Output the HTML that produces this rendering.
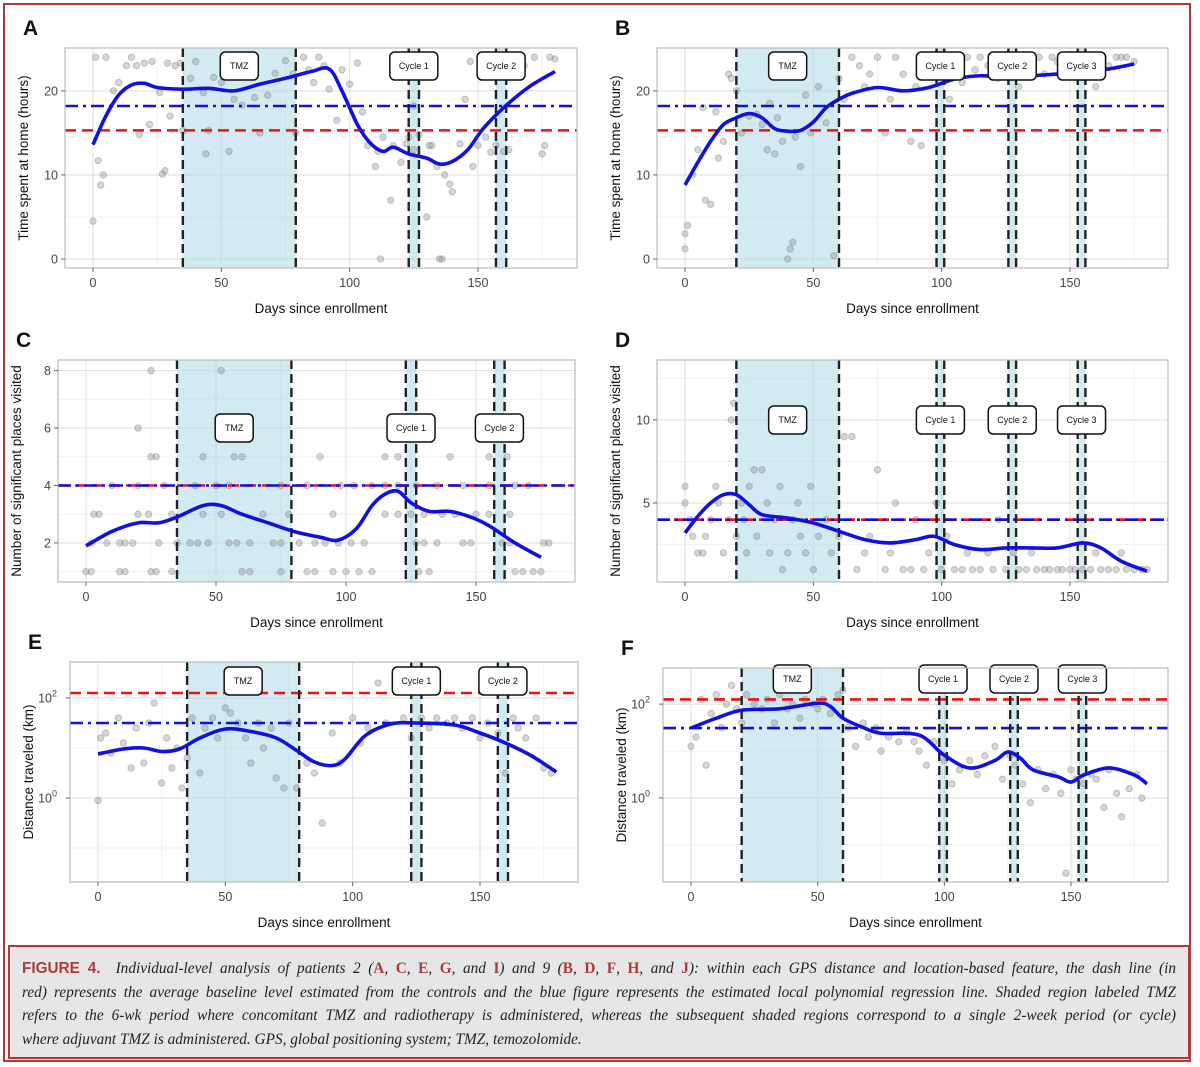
<!DOCTYPE html>
<html><head><meta charset="utf-8">
<style>
body{margin:0;background:#fff;width:1200px;height:1067px;overflow:hidden;position:relative;font-family:"Liberation Sans",sans-serif}
#frame{position:absolute;left:3px;top:3px;width:1188px;height:1059px;border:2px solid #b03a3a;box-sizing:border-box}
#cap{position:absolute;left:8px;top:945px;width:1182px;height:114px;background:#e6e6e6;border:2px solid #b03a3a;box-sizing:border-box;padding:10px 12px 0 12px;font-family:"Liberation Serif",serif;font-style:italic;font-size:15.3px;color:#222;line-height:23.5px}
#cap div{white-space:nowrap;text-align:justify;text-align-last:justify}
#cap div.last{text-align-last:left}
.fig{font-family:"Liberation Sans",sans-serif;font-style:normal;font-weight:bold;color:#b03a3a}
.r{color:#b03a3a;font-style:normal;font-weight:bold}
svg text{font-family:"Liberation Sans",sans-serif}
</style></head><body>
<div id="frame"></div>
<svg id="svg" width="1200" height="945" style="position:absolute;left:0;top:0"></svg>
<div id="cap">
<div><span class="fig">FIGURE 4.</span>&nbsp; Individual-level analysis of patients 2 (<span class="r">A</span>, <span class="r">C</span>, <span class="r">E</span>, <span class="r">G</span>, and <span class="r">I</span>) and 9 (<span class="r">B</span>, <span class="r">D</span>, <span class="r">F</span>, <span class="r">H</span>, and <span class="r">J</span>): within each GPS distance and location-based feature, the dash line (in</div>
<div>red) represents the average baseline level estimated from the controls and the blue figure represents the estimated local polynomial regression line. Shaded region labeled TMZ</div>
<div>refers to the 6-wk period where concomitant TMZ and radiotherapy is administered, whereas the subsequent shaded regions correspond to a single 2-week period (or cycle)</div>
<div class="last">where adjuvant TMZ is administered. GPS, global positioning system; TMZ, temozolomide.</div>
</div>
<script>
// ---- data ----
const xTicks=[0,50,100,150];
const regionsP2=[[35,79,'TMZ'],[123,127,'Cycle 1'],[157,161,'Cycle 2']];
const regionsP9=[[20,60,'TMZ'],[98,101,'Cycle 1'],[126,129,'Cycle 2'],[153,156,'Cycle 3']];
const curveA=[[0,13.6],[5,17],[10,19.5],[15,20.7],[20,20.9],[25,20.4],[35,20.2],[45,20.3],[55,20],[65,20.8],[75,21.5],[85,22.3],[92,22.6],[97,20],[103,16],[108,13.8],[113,12.8],[117,13.3],[123,12.5],[130,12],[135,11.3],[140,11.6],[146,13],[152,15.5],[160,18],[170,20.5],[180,22.3]];
const curveB=[[0,8.8],[5,11.5],[10,14],[15,16],[20,16.8],[25,17.3],[30,16.8],[35,15.5],[40,15.2],[45,15.3],[50,16.3],[55,18],[60,19],[65,19.7],[75,20.4],[85,20],[95,20.4],[105,21.4],[115,21.8],[125,21.6],[135,21.8],[145,22],[155,22.2],[165,22.6],[175,23.2]];
const curveC=[[0,1.9],[10,2.4],[20,2.7],[28,2.7],[35,2.9],[45,3.3],[52,3.3],[60,3.0],[70,2.7],[80,2.4],[90,2.2],[97,2.1],[104,2.5],[110,3.3],[115,3.7],[120,3.8],[125,3.4],[132,3.1],[140,3.1],[148,2.9],[155,2.6],[165,2.0],[175,1.5]];
const curveD=[[0,3.2],[5,4.2],[10,5],[15,5.5],[20,5.5],[25,4.9],[30,4.3],[40,4.1],[50,3.8],[60,3.3],[70,2.8],[80,2.6],[90,2.8],[97,3],[105,2.5],[115,2.2],[125,2.3],[135,2.3],[145,2.3],[155,2.6],[162,2.3],[170,1.5],[180,0.9]];
const curveE=[[0,0.88],[10,0.98],[18,1.0],[25,0.93],[32,0.98],[40,1.2],[50,1.38],[60,1.33],[70,1.2],[78,0.95],[85,0.72],[92,0.65],[97,0.78],[105,1.25],[115,1.48],[125,1.5],[140,1.46],[150,1.3],[160,1.1],[170,0.85],[180,0.52]];
const curveF=[[0,1.49],[10,1.7],[20,1.87],[35,1.9],[50,2.02],[55,1.95],[60,1.7],[68,1.5],[75,1.38],[90,1.34],[100,0.91],[110,0.64],[120,0.8],[125,0.98],[130,0.85],[135,0.6],[145,0.45],[150,0.34],[155,0.49],[165,0.64],[175,0.49],[180,0.3]];
const ptsA=[[0,4.5],[1,24],[2,11.7],[3,8.8],[4,10],[5,24],[8,20],[10,21],[13,23],[15,24],[17,23],[18,14.8],[20,23.3],[22,16],[23,23.5],[26,19.8],[27,10.1],[28,10.5],[29,23.3],[30,17],[32,23],[34,23.3],[35,15.3],[38,21.5],[40,23.5],[43,19.8],[44,12.5],[45,15.3],[47,21.6],[50,21],[53,12.8],[55,19],[58,18.3],[60,22.8],[63,19.2],[65,15],[68,19.5],[71,22.1],[75,23.6],[78,22],[79,15],[82,24],[84,22.5],[86,21],[88,24],[90,23],[92,20.2],[95,16.5],[97,22.5],[100,20.8],[103,23.3],[105,17.5],[107,13.5],[110,11],[111,12.8],[112,0],[113,14.5],[116,7],[117,13.5],[120,11.5],[122,13.7],[123,14.5],[125,18.2],[125,13],[127,14.8],[130,5],[131,13.5],[132,13.5],[134,11],[135,0],[136,0],[137,10],[139,8.9],[140,8],[143,13.7],[145,19],[147,23.5],[148,11],[150,13.5],[153,14.5],[155,12.7],[157,13.5],[160,12.8],[162,13],[165,24],[168,23],[172,24],[175,12.5],[176,13.5],[178,24],[180,23.8]];
const ptsB=[[0,1.2],[0,3],[1,4],[3,10],[5,13],[7,18],[8,7],[10,6.5],[12,17.5],[13,12],[15,14],[17,22],[18,21.5],[20,20],[22,15],[25,17],[28,17.2],[30,16],[32,13],[33,18.5],[35,12.5],[36,16.8],[38,14],[40,0],[41,1.2],[42,2],[43,14.5],[45,11],[47,19.5],[49,15],[52,20.5],[55,16.2],[58,0.4],[60,21.5],[62,19],[65,24],[68,23],[70,20.5],[72,22],[75,24],[78,15],[80,19],[82,24],[85,22],[88,14],[90,20.5],[92,13.5],[95,24],[97,22.5],[100,23.5],[103,19],[105,24],[108,21],[110,24],[113,22.5],[115,24],[118,23],[120,24],[122,21.5],[125,24],[128,23],[130,20.5],[132,24],[135,23.5],[138,24],[140,22],[143,24],[145,23.5],[148,24],[150,22],[153,24],[155,23.5],[158,24],[160,20.5],[163,24],[165,23],[168,24],[170,24],[172,24],[175,23.5]];
const ptsC=[[0,1],[2,1],[13,1],[15,1],[25,1],[27,1],[33,1],[60,1],[63,1],[75,1],[85,1],[88,1],[95,1],[100,1],[105,1],[110,1],[128,1],[132,1],[165,1],[168,1],[172,1],[175,1],
[2,2],[8,2],[13,2],[15,2],[18,2],[28,2],[35,2],[40,2],[43,2],[47,2],[55,2],[58,2],[63,2],[72,2],[75,2],[82,2],[88,2],[92,2],[97,2],[102,2],[107,2],[127,2],[130,2],[135,2],[145,2],[148,2],[160,2],[163,2],[176,2],[178,2],
[3,3],[5,3],[20,3],[24,3],[33,3],[45,3],[52,3],[68,3],[78,3],[95,3],[115,3],[120,3],[125,3],[130,3],[137,3],[142,3],[150,3],[155,3],[163,3],
[10,4],[20,4],[30,4],[42,4],[50,4],[55,4],[75,4],[85,4],[98,4],[103,4],[110,4],[115,4],[120,4],[127,4],[135,4],[145,4],[155,4],[165,4],[170,4],
[25,5],[27,5],[45,5],[57,5],[60,5],[90,5],[115,5],[120,5],[140,5],[155,5],[162,5],[20,6],[60,6],[25,8],[52,8]];
const ptsD=[[0,6],[0,5],[2,4],[3,3],[5,2],[7,2],[8,3],[10,4],[12,6],[13,5],[15,2],[17,4],[18,10],[19,11],[20,3],[22,5],[23,4],[24,2],[25,6],[27,7],[28,3],[30,7],[32,5],[33,2],[35,4],[37,6],[38,1],[40,2],[42,4],[44,5],[45,3],[47,2],[49,6],[50,1],[52,3],[55,4],[57,2],[60,3],[62,9],[65,9],[67,1],[70,2],[72,3],[75,7],[78,1],[80,2],[82,5],[85,1],[88,1],[90,4],[93,1],[95,2],[98,5],[100,1],[102,3],[105,1],[108,1],[110,2],[112,1],[115,1],[118,2],[120,1],[122,4],[125,1],[128,2],[130,1],[133,1],[135,2],[137,1],[140,1],[142,1],[145,1],[147,1],[150,1],[152,1],[155,1],[158,1],[160,2],[162,1],[165,1],[168,1],[170,2],[172,1],[175,1],[178,1],[180,1]];
const ptsE=[[0,-0.05],[1,1.2],[3,1.3],[5,0.9],[8,1.6],[10,1.1],[13,0.6],[15,1.4],[18,0.7],[20,1.5],[22,1.9],[25,0.3],[27,1.2],[29,0.6],[31,1.0],[33,0.2],[35,0.8],[37,1.6],[40,0.5],[42,1.4],[45,1.6],[47,1.2],[50,1.8],[52,1.7],[55,1.5],[58,1.2],[60,0.7],[63,1.5],[65,1.0],[68,1.4],[70,0.4],[73,0.2],[75,1.5],[78,0.2],[82,0.7],[85,0.5],[88,-0.5],[92,1.3],[95,0.7],[100,1.6],[103,1.1],[106,1.4],[110,2.3],[113,1.5],[117,2.3],[120,1.6],[123,1.2],[127,1.6],[130,1.4],[133,1.6],[137,1.5],[140,1.6],[143,1.4],[147,1.6],[150,1.2],[153,1.5],[157,1.3],[160,0.5],[163,1.6],[165,1.4],[168,1.2],[172,1.6],[175,0.6],[178,0.5]];
const ptsF=[[0,1.1],[2,1.3],[4,2.1],[6,0.7],[8,1.8],[10,2.2],[12,1.5],[14,2.0],[16,2.4],[18,1.9],[20,1.6],[22,2.2],[25,2.0],[28,1.9],[30,2.1],[33,1.6],[35,2.2],[38,1.9],[40,2.0],[43,1.7],[45,2.1],[48,2.0],[50,1.9],[52,2.1],[55,1.8],[58,2.2],[60,2.3],[62,1.5],[65,1.1],[68,1.6],[70,1.3],[73,1.5],[75,1.0],[78,1.3],[82,1.2],[85,1.4],[88,1.2],[90,1.0],[93,0.7],[96,1.2],[100,0.8],[103,0.3],[106,0.6],[110,0.8],[113,0.5],[116,0.9],[120,1.1],[123,0.4],[126,0.9],[128,0.7],[131,0.3],[134,-0.1],[137,0.6],[140,0.2],[143,0.5],[146,0.1],[148,-1.6],[150,0.6],[152,0.4],[155,0.3],[158,0.5],[160,0.4],[163,-0.2],[165,0.6],[168,0.1],[170,-0.4],[173,0.2],[176,0.5],[178,0.0]];

const panels=[
 {id:'a',letter:'A',L:65,R:577,T:48,B:268,x0:93,x150:478,yMin:-1.07,yMax:25.1,yTicks:[0,10,20],yLab:v=>String(v),minor:[5,15],title:'Time spent at home (hours)',regions:regionsP2,boxY:66,red:15.3,blue:18.2,curve:curveA,pts:ptsA},
 {id:'b',letter:'B',L:657,R:1168,T:48,B:268,x0:685,x150:1070,yMin:-1.07,yMax:25.1,yTicks:[0,10,20],yLab:v=>String(v),minor:[5,15],title:'Time spent at home (hours)',regions:regionsP9,boxY:66,red:15.3,blue:18.2,curve:curveB,pts:ptsB},
 {id:'c',letter:'C',L:58,R:575,T:360,B:582,x0:86,x150:476,yMin:0.64,yMax:8.37,yTicks:[2,4,6,8],yLab:v=>String(v),minor:[1,3,5,7],title:'Number of significant places visited',regions:regionsP2,boxY:428,red:4,blue:4,curve:curveC,pts:ptsC},
 {id:'d',letter:'D',L:657,R:1168,T:360,B:582,x0:685,x150:1070,yMin:0.25,yMax:13.6,yTicks:[5,10],yLab:v=>String(v),minor:[2.5,7.5,12.5],title:'Number of significant places visited',regions:regionsP9,boxY:420,red:4,blue:4,curve:curveD,pts:ptsD},
 {id:'e',letter:'E',L:70,R:578,T:662,B:882,x0:98,x150:480,yMin:-1.68,yMax:2.72,yTicks:[0,2],yLab:null,minor:[-1,1],title:'Distance traveled (km)',regions:regionsP2,boxY:681,red:2.1,blue:1.5,curve:curveE,pts:ptsE},
 {id:'f',letter:'F',L:663,R:1168,T:668,B:882,x0:691,x150:1071,yMin:-1.79,yMax:2.77,yTicks:[0,2],yLab:null,minor:[-1,1],title:'Distance traveled (km)',regions:regionsP9,boxY:679,red:2.1,blue:1.49,curve:curveF,pts:ptsF}
];
const NS='http://www.w3.org/2000/svg';
const svg=document.getElementById('svg');
function mk(tag,attrs,parent){const e=document.createElementNS(NS,tag);for(const k in attrs)e.setAttribute(k,attrs[k]);(parent||svg).appendChild(e);return e;}
function smooth(p){let d='M'+p[0][0]+','+p[0][1];for(let i=0;i<p.length-1;i++){const a=p[i-1]||p[i],b=p[i],c=p[i+1],e=p[i+2]||c;d+=' C'+(b[0]+(c[0]-a[0])/6)+','+(b[1]+(c[1]-a[1])/6)+' '+(c[0]-(e[0]-b[0])/6)+','+(c[1]-(e[1]-b[1])/6)+' '+c[0]+','+c[1];}return d;}
panels.forEach(P=>{
 const g=mk('g',{});
 
 
 const sx=(P.x150-P.x0)/150;
 const X=d=>P.x0+d*sx;
 const Y=v=>P.B-(v-P.yMin)/(P.yMax-P.yMin)*(P.B-P.T);
 const lt=mk('text',{x:P.L-42,y:P.T-13,'font-size':21,'font-weight':'bold',fill:'#111'},g);lt.textContent=P.letter;
 
 
 // grid
 [25,75,125,175].forEach(d=>mk('line',{x1:X(d),x2:X(d),y1:P.T,y2:P.B,stroke:'#f0f0f0','stroke-width':1},g));
 P.minor.forEach(v=>mk('line',{x1:P.L,x2:P.R,y1:Y(v),y2:Y(v),stroke:'#f0f0f0','stroke-width':1},g));
 xTicks.forEach(d=>mk('line',{x1:X(d),x2:X(d),y1:P.T,y2:P.B,stroke:'#dedede','stroke-width':1},g));
 P.yTicks.forEach(v=>mk('line',{x1:P.L,x2:P.R,y1:Y(v),y2:Y(v),stroke:'#dedede','stroke-width':1},g));
 // regions
 P.regions.forEach(r=>{
  const rc=mk('rect',{x:X(r[0]),y:P.T,width:X(r[1])-X(r[0]),height:P.B-P.T,fill:'#add8e6','fill-opacity':0.55},g);
  
  
 });
 // points
 P.pts.forEach(p=>{
  const c=mk('circle',{cx:X(p[0]),cy:Y(p[1]),r:3.2,fill:'#8a8a8a','fill-opacity':0.35,stroke:'#707070','stroke-opacity':0.35},g);
  
  
 });
 // baselines
 const rl=mk('line',{x1:P.L,x2:P.R,y1:Y(P.red),y2:Y(P.red),stroke:'#ee1111','stroke-width':2.6,'stroke-dasharray':'11,6'},g);
 
 
 const bl=mk('line',{x1:P.L,x2:P.R,y1:Y(P.blue),y2:Y(P.blue),stroke:'#1111dd','stroke-width':2.6,'stroke-dasharray':'13,5,3,5'},g);
 
 
 // vertical dashed
 P.regions.forEach(r=>[r[0],r[1]].forEach(d=>{
  const vl=mk('line',{x1:X(d),x2:X(d),y1:P.T,y2:P.B,stroke:'#222','stroke-width':2.4,'stroke-dasharray':'9,5'},g);
  
  
 }));
 // curve
 const cv=mk('path',{d:smooth(P.curve.map(p=>[X(p[0]),Y(p[1])])),fill:'none',stroke:'#1010e0','stroke-width':3.6,'stroke-linejoin':'round'},g);
 
 
 // boxes
 P.regions.forEach(r=>{
  const cx=X((r[0]+r[1])/2),w=r[2]==='TMZ'?38:48;
  const bx=mk('rect',{x:cx-w/2,y:P.boxY-14,width:w,height:28,rx:5,fill:'#fff',stroke:'#111','stroke-width':1.5},g);
  
  
  const t=mk('text',{x:cx,y:P.boxY+3,'font-size':9,'text-anchor':'middle',fill:'#111'},g);t.textContent=r[2];
 });
 // border
 mk('rect',{x:P.L,y:P.T,width:P.R-P.L,height:P.B-P.T,fill:'none',stroke:'#bbb','stroke-width':1.2},g);
 // ticks
 xTicks.forEach(d=>{mk('line',{x1:X(d),x2:X(d),y1:P.B,y2:P.B+4,stroke:'#666'},g);const t=mk('text',{x:X(d),y:P.B+19,'font-size':12.5,'text-anchor':'middle',fill:'#444'},g);t.textContent=d;});
 P.yTicks.forEach(v=>{mk('line',{x1:P.L-4,x2:P.L,y1:Y(v),y2:Y(v),stroke:'#666'},g);
  const t=mk('text',{x:P.L-7,y:Y(v)+4.5,'font-size':12.5,'text-anchor':'end',fill:'#444'},g);
  if(P.yLab)t.textContent=P.yLab(v);else{t.textContent='10';const s=mk('tspan',{dy:-6,'font-size':9},t);s.textContent=String(v);t.setAttribute('x',P.L-13);}
 });
 const xt=mk('text',{x:(P.L+P.R)/2,y:P.B+45,'font-size':13.5,'text-anchor':'middle',fill:'#111'},g);xt.textContent='Days since enrollment';
 
 
 const ycx=P.L-37,ycy=(P.T+P.B)/2;
 const yt=mk('text',{x:ycx,y:ycy,'font-size':13.5,'text-anchor':'middle',fill:'#111',transform:'rotate(-90 '+ycx+' '+ycy+')'},g);yt.textContent=P.title;
 
 
});
</script>
</body></html>
